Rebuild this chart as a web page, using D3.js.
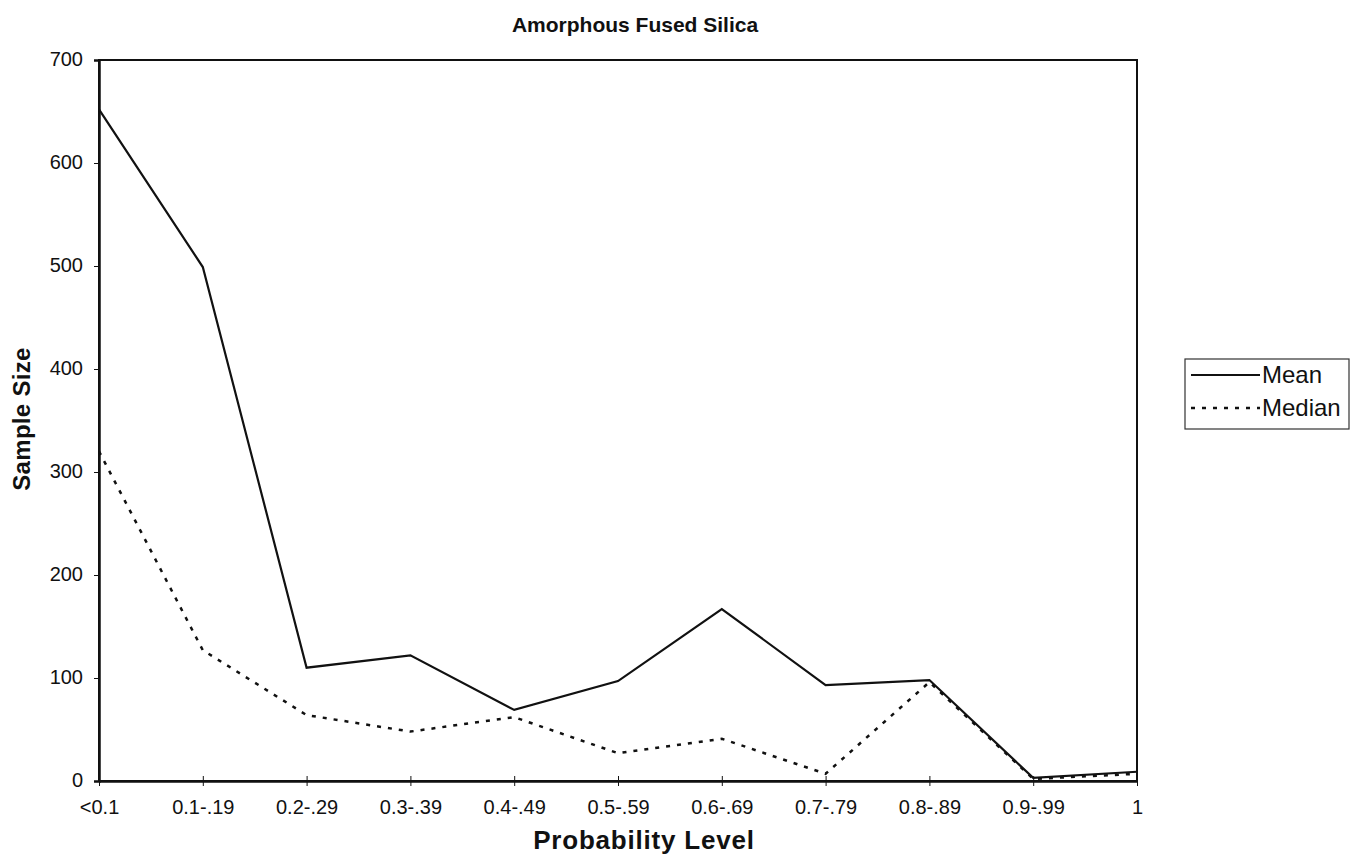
<!DOCTYPE html>
<html>
<head>
<meta charset="utf-8">
<script src="https://cdn.jsdelivr.net/npm/d3@7"></script>
<style>
  html, body { margin: 0; padding: 0; background: #fff; }
  svg text { font-family: "Liberation Sans", Arial, sans-serif; fill: #111; }
</style>
</head>
<body>
<svg id="chart" width="1356" height="855"></svg>
<script>
// Probability-level bins along the x axis
const categories = ["<0.1", "0.1-.19", "0.2-.29", "0.3-.39", "0.4-.49", "0.5-.59",
                    "0.6-.69", "0.7-.79", "0.8-.89", "0.9-.99", "1"];
// Sample sizes per bin
const meanValues   = [652, 499, 110, 122, 69, 97, 167, 93, 98, 3, 9];
const medianValues = [320, 127, 64, 48, 62, 27, 41, 7, 96, 2, 7];
const yTicks = [0, 100, 200, 300, 400, 500, 600, 700];

const svg = d3.select("#chart");
const plot = { left: 99, right: 1137, top: 60, bottom: 781 };

const x = d3.scalePoint().domain(categories).range([plot.left, plot.right]);
const y = d3.scaleLinear().domain([0, 700]).range([plot.bottom, plot.top]);

// Plot frame
svg.append("rect")
  .attr("x", plot.left).attr("y", plot.top)
  .attr("width", plot.right - plot.left).attr("height", plot.bottom - plot.top)
  .attr("fill", "none").attr("stroke", "#111").attr("stroke-width", 2);

// Y axis
const yAxis = svg.append("g")
  .attr("transform", `translate(${plot.left},0)`)
  .call(d3.axisLeft(y).tickValues(yTicks).tickSize(5).tickPadding(11).tickFormat(d3.format("d")));
yAxis.select(".domain").attr("stroke", "#111").attr("stroke-width", 2.5);
yAxis.selectAll(".tick line").attr("stroke", "#111");
yAxis.selectAll(".tick text").attr("font-size", 20).attr("fill", "#111").attr("dy", "0.28em");

// X axis
const xAxis = svg.append("g")
  .attr("transform", `translate(0,${plot.bottom})`)
  .call(d3.axisBottom(x).tickSizeInner(5).tickSizeOuter(0).tickPadding(14));
xAxis.select(".domain").attr("stroke", "#111").attr("stroke-width", 2.5);
xAxis.selectAll(".tick line").attr("stroke", "#111").attr("transform", "translate(0,-5)").attr("y2", 10);
xAxis.selectAll(".tick text").attr("font-size", 20).attr("fill", "#111");

// Series lines
const line = d3.line().x((d, i) => x(categories[i])).y(d => y(d));

svg.append("path")
  .datum(medianValues)
  .attr("d", line)
  .attr("fill", "none")
  .attr("stroke", "#111")
  .attr("stroke-width", 2.5)
  .attr("stroke-dasharray", "4,7");

svg.append("path")
  .datum(meanValues)
  .attr("d", line)
  .attr("fill", "none")
  .attr("stroke", "#111")
  .attr("stroke-width", 2.2);

// Title
svg.append("text")
  .attr("x", 635).attr("y", 32)
  .attr("text-anchor", "middle")
  .attr("font-size", 21).attr("font-weight", "bold")
  .text("Amorphous Fused Silica");

// Axis titles
svg.append("text")
  .attr("x", 644).attr("y", 849)
  .attr("text-anchor", "middle")
  .attr("font-size", 26).attr("font-weight", "bold")
  .attr("letter-spacing", 0.8)
  .text("Probability Level");

svg.append("text")
  .attr("transform", "translate(30,419) rotate(-90)")
  .attr("text-anchor", "middle")
  .attr("font-size", 24).attr("font-weight", "bold")
  .attr("letter-spacing", 0.3)
  .text("Sample Size");

// Legend
const legend = svg.append("g");
legend.append("rect")
  .attr("x", 1185).attr("y", 359).attr("width", 164).attr("height", 70)
  .attr("fill", "#fff").attr("stroke", "#333").attr("stroke-width", 1.2);

const legendItems = [
  { name: "Mean", dash: null, width: 2.2 },
  { name: "Median", dash: "4,7", width: 2.5 }
];
legendItems.forEach((d, i) => {
  const cy = 375 + i * 33;
  legend.append("line")
    .attr("x1", 1191).attr("x2", 1260).attr("y1", cy).attr("y2", cy)
    .attr("stroke", "#111").attr("stroke-width", d.width)
    .attr("stroke-dasharray", d.dash);
  legend.append("text")
    .attr("x", 1262).attr("y", cy + 8)
    .attr("font-size", 24)
    .text(d.name);
});
</script>
</body>
</html>
